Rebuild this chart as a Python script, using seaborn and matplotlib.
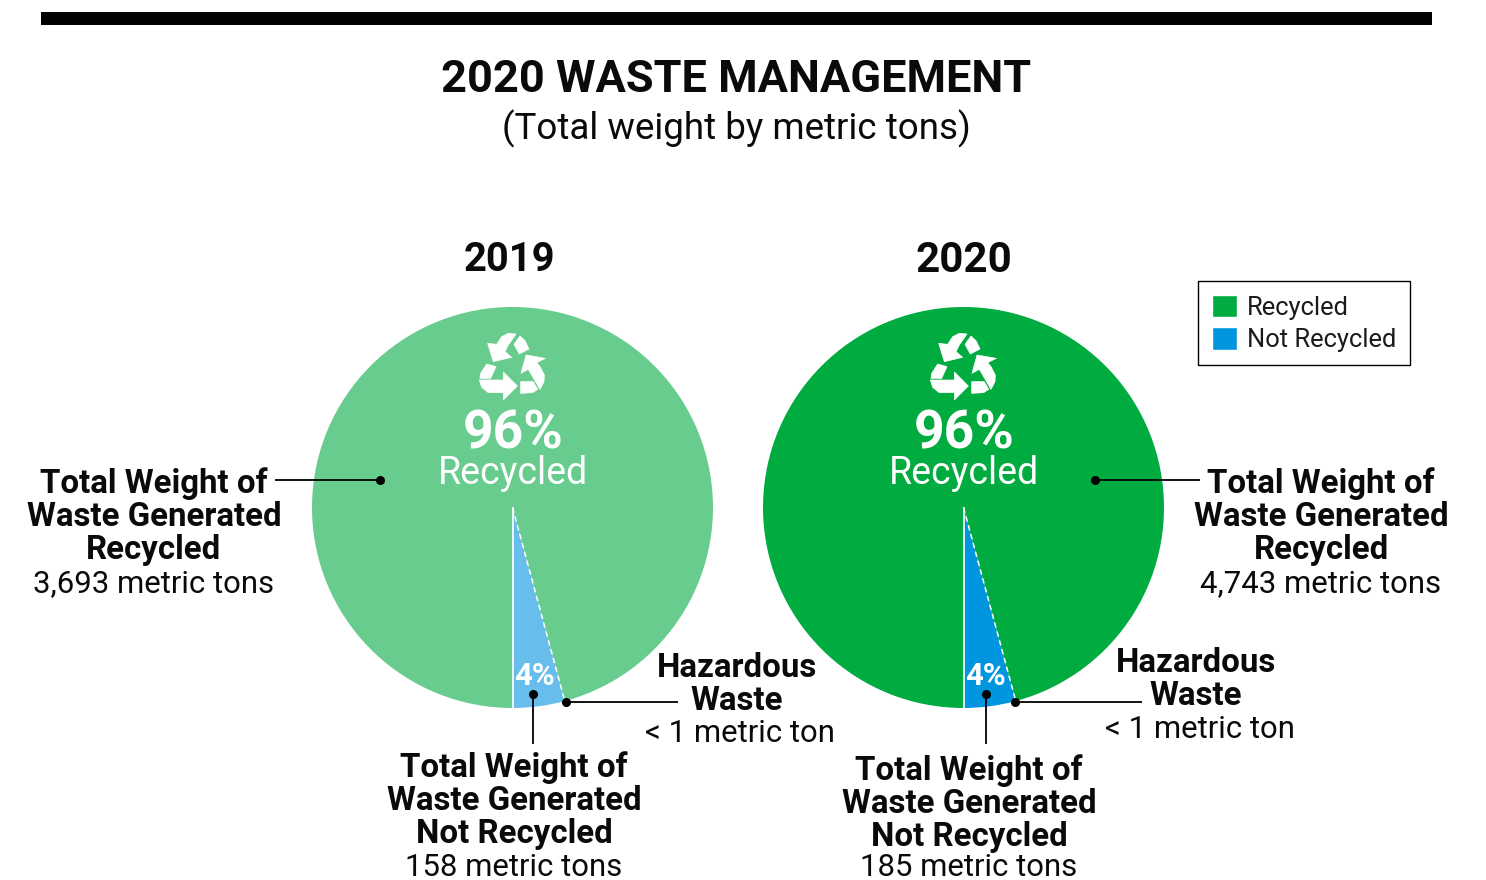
import numpy as np
import matplotlib
matplotlib.use("Agg")
import matplotlib.pyplot as plt
from matplotlib.patches import Polygon, Patch
import seaborn as sns

years = ["2019", "2020"]
segments = ["Not Recycled", "Recycled"]
shares_2019 = [4.2, 95.8]
shares_2020 = [4.2, 95.8]
recycled_tons = ["3,693 metric tons", "4,743 metric tons"]
not_recycled_tons = ["158 metric tons", "185 metric tons"]
hazardous_tons = ["< 1 metric ton", "< 1 metric ton"]
colors_2019 = ["#67BDEB", "#68CC8E"]
colors_2020 = ["#0096DF", "#00AB3F"]
W, H = 1486, 880

sns.set_theme(style="white")
FONT = "Roboto"
plt.rcParams["font.family"] = [FONT, "DejaVu Sans"]
px = 0.72

fig = plt.figure(figsize=(W / 100, H / 100), dpi=100, facecolor="white")


def pie_axes(cx, cy, r, shares, colors):
    ax = fig.add_axes([(cx - r) / W, 1 - (cy + r) / H, 2 * r / W, 2 * r / H], zorder=1)
    wedges, _ = ax.pie(shares, colors=colors, startangle=270, counterclock=True,
                       radius=1, wedgeprops=dict(linewidth=0))
    ax.set_xlim(-1, 1)
    ax.set_ylim(-1, 1)
    ang = np.deg2rad(wedges[0].theta2)
    ax.plot([0, 0], [0, -1], color="white", lw=1.2, solid_capstyle="butt")
    ax.plot([0, np.cos(ang)], [0, np.sin(ang)], color="white", lw=1.1,
            dashes=(3.5, 2.5))
    for s in ax.spines.values():
        s.set_visible(False)
    return ax


pie_axes(512.5, 507.5, 200.5, shares_2019, colors_2019)
pie_axes(963.5, 507.5, 200.5, shares_2020, colors_2020)

ov = fig.add_axes([0, 0, 1, 1], zorder=2)
ov.set_xlim(0, W)
ov.set_ylim(H, 0)
ov.axis("off")
ov.patch.set_alpha(0)

ov.fill_between([41, 1432], 12, 25, color="black", lw=0)


def T(x, y, s, size, bold=False, color="#0a0a0a", ha="center", **kw):
    ov.text(x, y, s, fontsize=size * px, fontweight="bold" if bold else "normal",
            color=color, ha=ha, va="center", **kw)


T(736, 79.5, "2020 WASTE MANAGEMENT", 45.2, True)
T(736, 129, "(Total weight by metric tons)", 36.8)
T(509.5, 260, years[0], 40, True)
T(964, 260, years[1], 42, True)

# recycling icon, outlined in zoom-crop units
icon = [
    [(228, 72), (205, 70), (185, 80), (170, 103), (143, 100), (160, 155), (215, 142), (195, 125), (205, 105)],
    [(240, 78), (222, 103), (238, 132), (267, 117), (255, 92)],
    [(258, 135), (243, 190), (265, 178), (300, 238), (312, 215), (313, 195), (300, 170), (290, 158), (316, 145)],
    [(242, 215), (242, 250), (278, 248), (293, 238), (280, 215)],
    [(118, 210), (190, 210), (190, 186), (232, 228), (190, 270), (190, 248), (145, 248), (125, 232)],
    [(140, 162), (168, 170), (152, 205), (120, 205), (122, 190)],
]
for dx in (0, 451):
    for shape in icon:
        pts = [(440 + dx + a / 3, 310 + b / 3) for a, b in shape]
        ov.add_patch(Polygon(pts, closed=True, fc="white", ec="white", lw=0.5, joinstyle="round"))
    T(513 + dx, 434, "96%", 53.5, True, color="white")
    T(513 + dx, 473, "Recycled", 37.5, color="white")
    T(534.5 + dx, 676, "4%", 31, True, color="white")


def block(x, y0, lines, last, step=33, size=33, gap=2, xlast=None, size_last=31.2):
    for i, ln in enumerate(lines):
        T(x, y0 + i * step, ln, size, True)
    T(xlast if xlast is not None else x, y0 + len(lines) * step + gap, last, size_last)


tw = ["Total Weight of", "Waste Generated"]
block(154, 484, tw + ["Recycled"], recycled_tons[0], gap=1)
block(1321, 484, tw + ["Recycled"], recycled_tons[1], gap=1)
block(514, 768, tw + ["Not Recycled"], not_recycled_tons[0], gap=0)
block(969, 771, tw + ["Not Recycled"], not_recycled_tons[1], gap=-2)
block(737, 668, ["Hazardous", "Waste"], hazardous_tons[0], gap=0, xlast=740)
block(1196, 663, ["Hazardous", "Waste"], hazardous_tons[1], gap=0, xlast=1200)


def leader(x0, y0, x1, y1):
    ov.plot([x0, x1], [y0, y1], color="black", lw=1.3, solid_capstyle="butt")
    ov.plot([x0], [y0], "o", color="black", ms=6.5, mew=0)


leader(380, 480, 275, 480)
leader(1095, 480, 1200, 480)
leader(533, 694, 533, 744)
leader(986, 694, 986, 744)
leader(566, 702, 678, 702)
leader(1015, 702, 1142, 702)

handles = [Patch(fc=colors_2020[1], label=segments[1]),
           Patch(fc=colors_2020[0], label=segments[0])]
leg = ov.legend(handles=handles, loc="upper left",
                bbox_to_anchor=(1198 / W, 1 - 281 / H), bbox_transform=fig.transFigure,
                frameon=True, fancybox=False, framealpha=1, edgecolor="black",
                fontsize=25.5 * px, handlelength=1.0, handleheight=1.0, handletextpad=0.38,
                labelspacing=0.28, borderpad=0.53, borderaxespad=0,
                labelcolor="#1a1a1a")
leg.get_frame().set_linewidth(1.0)

fig.savefig("out.png", dpi=100)
